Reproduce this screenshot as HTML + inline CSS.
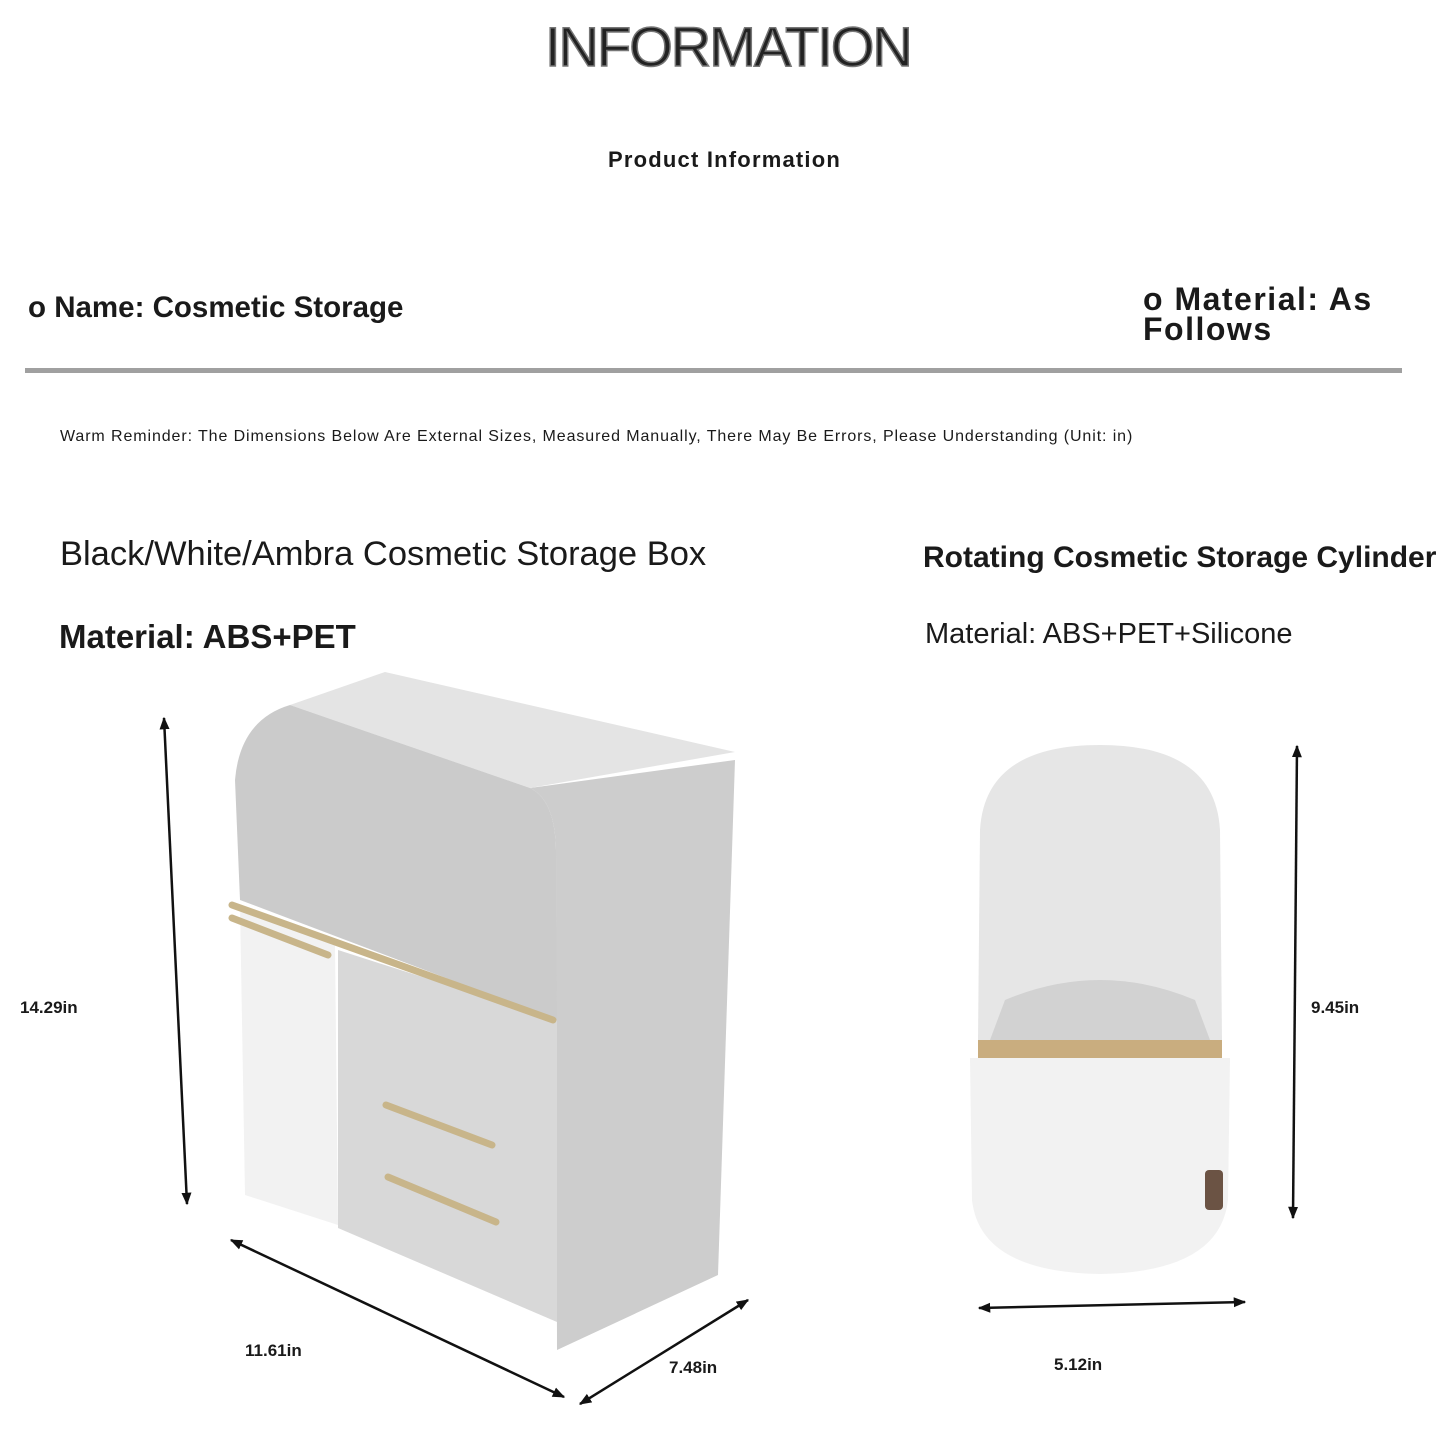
<!DOCTYPE html>
<html><head><style>
body{margin:0;width:1440px;height:1440px;background:#fff;position:relative;overflow:hidden;font-family:"Liberation Sans","Noto Sans CJK SC",sans-serif;color:#1a1a1a}
.t{position:absolute;white-space:nowrap}
</style></head><body>
<div class="t" style="left:545px;top:14px;font-size:56px;color:#222;-webkit-text-stroke:1.5px #777;letter-spacing:-2px">INFORMATION</div>
<div class="t" style="left:608px;top:147px;font-size:22px;font-weight:bold;letter-spacing:1.2px">Product Information</div>
<div class="t" style="left:28px;top:291px;font-size:29.5px;font-weight:bold">o Name: Cosmetic Storage</div>
<div class="t" style="left:1143px;top:284px;font-size:32px;font-weight:bold;line-height:30px;letter-spacing:1.5px">o Material: As<br>Follows</div>
<div style="position:absolute;left:25px;top:368px;width:1377px;height:5px;background:#a0a0a0"></div>
<div class="t" style="left:60px;top:428px;font-size:16px;letter-spacing:0.9px">Warm Reminder: The Dimensions Below Are External Sizes, Measured Manually, There May Be Errors, Please Understanding (Unit: in)</div>
<div class="t" style="left:60px;top:535px;font-size:34.5px">Black/White/Ambra Cosmetic Storage Box</div>
<div class="t" style="left:923px;top:541px;font-size:30px;font-weight:bold">Rotating Cosmetic Storage Cylinder</div>
<div class="t" style="left:59px;top:618px;font-size:33px;font-weight:bold">Material: ABS+PET</div>
<div class="t" style="left:925px;top:618px;font-size:29px">Material: ABS+PET+Silicone</div>
<div class="t" style="left:20px;top:998px;font-size:17px;font-weight:bold">14.29in</div>
<div class="t" style="left:245px;top:1341px;font-size:17px;font-weight:bold">11.61in</div>
<div class="t" style="left:669px;top:1358px;font-size:17px;font-weight:bold">7.48in</div>
<div class="t" style="left:1311px;top:998px;font-size:17px;font-weight:bold">9.45in</div>
<div class="t" style="left:1054px;top:1355px;font-size:17px;font-weight:bold">5.12in</div>
<svg width="1440" height="1440" style="position:absolute;left:0;top:0">
<defs><marker id="a" markerWidth="5" markerHeight="5" refX="4.5" refY="2.5" orient="auto-start-reverse"><path d="M0,0.5 L5,2.5 L0,4.5 Z" fill="#111"/></marker></defs>
<g stroke="#111" stroke-width="2.5" marker-start="url(#a)" marker-end="url(#a)">
<line x1="164" y1="718" x2="187" y2="1204"/>
<line x1="231" y1="1240" x2="564" y2="1397"/>
<line x1="580" y1="1404" x2="748" y2="1300"/>
<line x1="1297" y1="746" x2="1293" y2="1218"/>
<line x1="979" y1="1308" x2="1245" y2="1302"/>
</g>
<!-- box -->
<path d="M530,788 Q555,800 556,850 L557,1350 L718,1275 L735,760 Z" fill="#cdcdcd"/>
<path d="M290,705 L385,672 L735,752 L530,788 Z" fill="#e4e4e4"/>
<path d="M290,705 L530,788 Q555,800 556,850 L557,1020 L240,900 L235,780 Q240,720 290,705 Z" fill="#cbcbcb"/>
<path d="M240,905 L335,945 L338,1225 L245,1195 Z" fill="#f2f2f2"/>
<path d="M338,950 L557,1020 L557,1322 L338,1228 Z" fill="#d8d8d8"/>
<g stroke="#c8b58a" stroke-width="7" stroke-linecap="round">
<line x1="232" y1="905" x2="553" y2="1020"/>
<line x1="232" y1="918" x2="328" y2="955"/>
<line x1="386" y1="1105" x2="492" y2="1145"/>
<line x1="388" y1="1177" x2="496" y2="1222"/>
</g>
<!-- cylinder -->
<path d="M980,830 Q985,745 1100,745 Q1215,745 1220,830 L1222,1040 L978,1040 Z" fill="#e6e6e6"/>
<path d="M990,1040 L1005,1000 Q1100,960 1195,1000 L1210,1040 Z" fill="#d2d2d2"/>
<rect x="978" y="1040" width="244" height="18" fill="#c9ad7f"/>
<path d="M970,1058 L1230,1058 L1228,1200 Q1220,1272 1100,1274 Q980,1272 972,1200 Z" fill="#f2f2f2"/>
<rect x="1205" y="1170" width="18" height="40" rx="4" fill="#6b5344"/>
</svg>
</body></html>
